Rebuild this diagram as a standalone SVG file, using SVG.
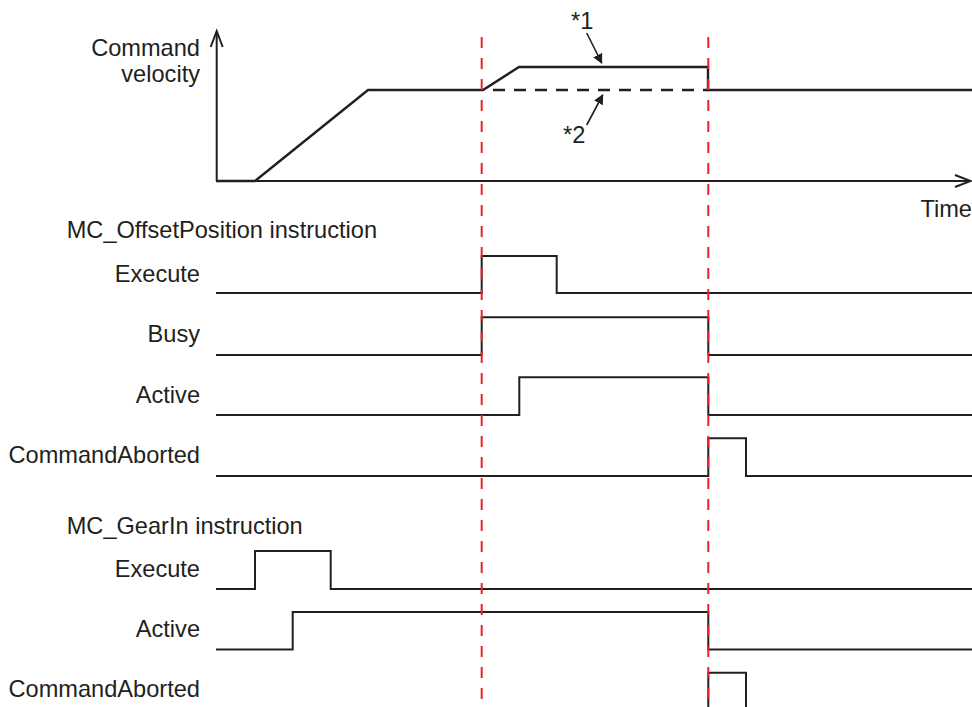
<svg xmlns="http://www.w3.org/2000/svg" width="972" height="707" viewBox="0 0 972 707">
<style>
text{font-family:"Liberation Sans",Arial,sans-serif;font-size:23.6px;fill:#231f20}
.lbl{text-anchor:end}
.sig{fill:none;stroke:#231f20;stroke-width:2}
.vel{fill:none;stroke:#231f20;stroke-width:2.4}
.guide{stroke:#e8222c;stroke-width:2;stroke-dasharray:11 10}
.ax{fill:none;stroke:#231f20;stroke-width:2}
</style>
<defs>
<marker id="fa" viewBox="0 0 10 10" refX="9" refY="5" markerWidth="10" markerHeight="10" markerUnits="userSpaceOnUse" orient="auto">
<path d="M0,0 L10,5 L0,10 Z" fill="#231f20"/>
</marker>
</defs>
<rect width="972" height="707" fill="#fff"/>
<g id="velocity-chart">
<path class="ax" d="M216.7,181 V32"/>
<path class="ax" d="M210.7,47 L216.7,31 L222.7,47"/>
<path class="ax" d="M216,181 H970"/>
<path class="ax" d="M955,175 L970.7,181 L955,187"/>
<text class="lbl" x="200" y="56">Command</text>
<text class="lbl" x="200" y="82">velocity</text>
<text class="lbl" x="972" y="217">Time</text>
<path class="vel" d="M216,181 H255 L368,90 H483 L519,67 H708 V90 H972"/>
<path class="vel" d="M493,90 H708" stroke-dasharray="12 9"/>
<text x="571" y="29">*1</text>
<text x="563" y="143">*2</text>
</g>
<g id="connectors">
<line x1="586.7" y1="33" x2="601.7" y2="63" stroke="#231f20" stroke-width="1.6" marker-end="url(#fa)"/>
<line x1="586.7" y1="125" x2="602.7" y2="95" stroke="#231f20" stroke-width="1.6" marker-end="url(#fa)"/>
</g>
<g id="offset-position">
<text x="66.7" y="238">MC_OffsetPosition instruction</text>
<g id="op-execute"><text class="lbl" x="200" y="282">Execute</text><path class="sig" d="M216,293 H481.7 V256 H556.7 V293 H972"/></g>
<g id="op-busy"><text class="lbl" x="200" y="342">Busy</text><path class="sig" d="M216,355 H481.7 V317.3 H708.3 V355 H972"/></g>
<g id="op-active"><text class="lbl" x="200" y="403">Active</text><path class="sig" d="M216,415 H519.3 V377.3 H708.3 V415 H972"/></g>
<g id="op-aborted"><text class="lbl" x="200" y="463">CommandAborted</text><path class="sig" d="M216,476 H708.3 V438.3 H746 V476 H972"/></g>
</g>
<g id="gear-in">
<text x="66.7" y="534">MC_GearIn instruction</text>
<g id="gi-execute"><text class="lbl" x="200" y="577">Execute</text><path class="sig" d="M216,589 H255 V551 H330.7 V589 H972"/></g>
<g id="gi-active"><text class="lbl" x="200" y="637">Active</text><path class="sig" d="M216,649.5 H292.7 V612 H708.3 V649.5 H972"/></g>
<g id="gi-aborted"><text class="lbl" x="200" y="697">CommandAborted</text><path class="sig" d="M708.3,710 V672.7 H746 V710"/></g>
</g>
<g id="guides">
<line class="guide" x1="481.7" y1="37" x2="481.7" y2="707"/>
<line class="guide" x1="708.3" y1="37" x2="708.3" y2="707"/>
</g>
</svg>
